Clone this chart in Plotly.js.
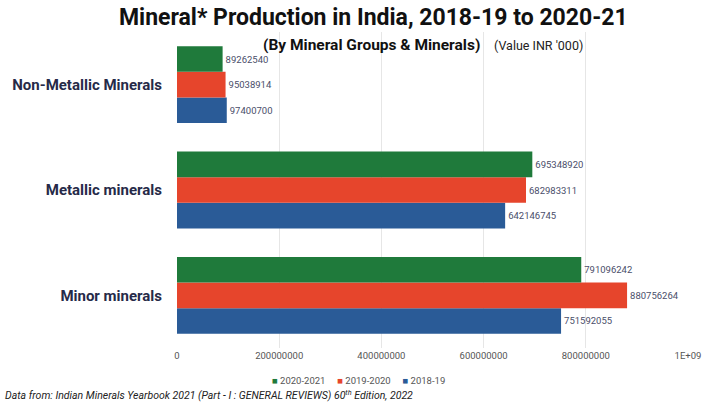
<!DOCTYPE html>
<html>
<head>
<meta charset="utf-8">
<script src="https://cdn.plot.ly/plotly-3.0.1.min.js"></script>
<style>html,body{margin:0;padding:0;background:#fff;}#chart{width:703px;height:402px;}</style>
</head>
<body>
<div id="chart"></div>
<script>
const categories = ["Minor minerals", "Metallic minerals", "Non-Metallic Minerals"];
const seriesNames = ["2018-19", "2019-2020", "2020-2021"];
const values2018_19 = [751592055, 642146745, 97400700];
const values2019_20 = [880756264, 682983311, 95038914];
const values2020_21 = [791096242, 695348920, 89262540];
const tickValues = [0, 200000000, 400000000, 600000000, 800000000, 1000000000];
const tickLabels = ["0", "200000000", "400000000", "600000000", "800000000", "1E+09"];

const colors = ["#2a5b97", "#e6452c", "#1f7a3b"];
const allValues = [values2018_19, values2019_20, values2020_21];

const traces = allValues.map((vals, i) => ({
  type: "bar",
  orientation: "h",
  name: seriesNames[i],
  y: categories,
  x: vals,
  text: vals.map(v => String(v)),
  textposition: "outside",
  cliponaxis: false,
  textfont: {family: "Roboto, sans-serif", size: 9.5, color: "#4a4e6a"},
  marker: {color: colors[i]},
  hoverinfo: "x+name"
}));

// legend drawn as a text line (reversed series order), built from names and colours
const legendText = seriesNames.map((n, i) => i).reverse()
  .map(i => "<span style='color:" + colors[i] + "'>■</span> " + seriesNames[i])
  .join("     ");

const layout = {
  width: 703, height: 402,
  margin: {l: 177, r: 15, t: 32, b: 54},
  paper_bgcolor: "#ffffff",
  plot_bgcolor: "#ffffff",
  font: {family: "Roboto, sans-serif"},
  barmode: "group",
  bargap: 0.27,
  bargroupgap: 0,
  showlegend: false,
  title: {
    text: "<b>Mineral* Production in India, 2018-19 to 2020-21</b>",
    font: {family: "Roboto, sans-serif", size: 23, color: "#111111"},
    x: 0.531, xanchor: "center", xref: "container",
    y: 0.957, yanchor: "middle", yref: "container"
  },
  xaxis: {
    range: [0, 1000000000],
    tickvals: tickValues,
    ticktext: tickLabels,
    tickfont: {size: 9.5, color: "#555555"},
    showgrid: true,
    gridcolor: "#e6e6e6",
    zeroline: false,
    showline: false,
    ticks: "",
    fixedrange: true
  },
  yaxis: {
    type: "category",
    tickfont: {size: 15, color: "#262a48", family: "Roboto, sans-serif", weight: "bold"},
    ticks: "",
    ticklabelstandoff: 14,
    showgrid: false,
    zeroline: false,
    showline: false,
    fixedrange: true
  },
  annotations: [
    {
      text: "<b>(By Mineral Groups & Minerals)</b>",
      xref: "paper", yref: "paper",
      x: (371 - 177) / 511, y: (347.5 - 45) / 315,
      xanchor: "center", yanchor: "middle",
      showarrow: false,
      font: {family: "Roboto, sans-serif", size: 15.5, color: "#111111"}
    },
    {
      text: "(Value INR '000)",
      xref: "paper", yref: "paper",
      x: (492 - 177) / 511, y: (347.5 - 46) / 315,
      xanchor: "left", yanchor: "middle",
      showarrow: false,
      font: {family: "Roboto, sans-serif", size: 12.5, color: "#222222"}
    },
    {
      text: legendText,
      xref: "paper", yref: "paper",
      x: (358 - 177) / 511, y: (347.5 - 380) / 315,
      xanchor: "center", yanchor: "middle",
      showarrow: false,
      font: {family: "Roboto, sans-serif", size: 9.5, color: "#555555"}
    },
    {
      text: "<i>Data from: Indian Minerals Yearbook 2021 (Part - I : GENERAL REVIEWS) 60<sup>th</sup> Edition, 2022</i>",
      xref: "paper", yref: "paper",
      x: (3 - 177) / 511, y: (347.5 - 394) / 315,
      xanchor: "left", yanchor: "middle",
      showarrow: false,
      font: {family: "Roboto, sans-serif", size: 10.5, color: "#222222"}
    }
  ]
};

Plotly.newPlot("chart", traces, layout, {displayModeBar: false, staticPlot: true});
</script>
</body>
</html>
